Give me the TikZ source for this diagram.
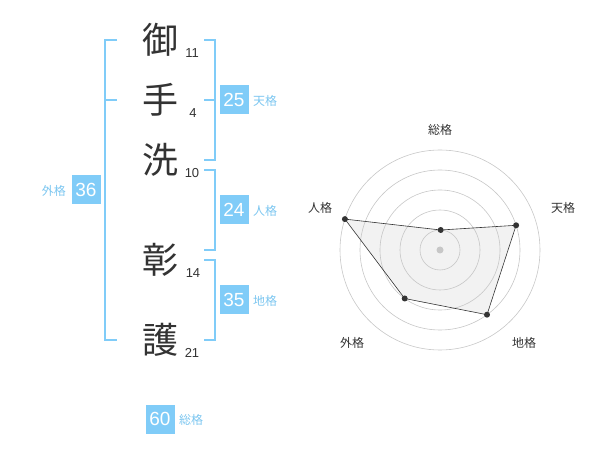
\documentclass[tikz,border=0pt]{standalone}
\usepackage{fontspec}
\setmainfont{Liberation Sans}
\newfontfamily\cjk{Noto Sans CJK JP}
\definecolor{lblue}{HTML}{80CCF8}
\definecolor{ltext}{HTML}{7CC6F0}
\definecolor{dtext}{HTML}{333333}
\begin{document}
\begin{tikzpicture}[x=1pt,y=-1pt,
  kanji/.style={font=\cjk\fontsize{36}{36}\selectfont, text=dtext, inner sep=0pt},
  strokes/.style={font=\fontsize{13}{13}\selectfont, text=dtext, inner sep=0pt},
  valbox/.style={fill=lblue, text=white, font=\fontsize{19}{19}\selectfont, minimum width=29pt, minimum height=29pt, inner sep=0pt},
  lbl/.style={font=\cjk\fontsize{12}{12}\selectfont, text=ltext, inner sep=0pt},
  brk/.style={draw=lblue, line width=2pt},
  ring/.style={draw=black!22, line width=0.6pt},
  axlbl/.style={font=\cjk\fontsize{12}{12}\selectfont, text=dtext, inner sep=0pt},
  pt/.style={circle, fill=dtext, inner sep=0pt, minimum size=6pt}]
\useasboundingbox (0,0) rectangle (600,470);
% characters
\node[kanji] (k1) at (160,40) {御};
\node[kanji] (k2) at (160,100) {手};
\node[kanji] (k3) at (160,160) {洗};
\node[kanji] (k4) at (160,260) {彰};
\node[kanji] (k5) at (160,340) {護};
\node[strokes] (s1) at (192,53) {11};
\node[strokes] (s2) at (193,113) {4};
\node[strokes] (s3) at (192,173) {10};
\node[strokes] (s4) at (193,273) {14};
\node[strokes] (s5) at (192,353) {21};
% brackets
\draw[brk] (117,40) -- (105,40) -- (105,340) -- (117,340);
\draw[brk] (105,100) -- (117,100);
\draw[brk] (204,40) -- (215,40) -- (215,160) -- (204,160);
\draw[brk] (204,100) -- (215,100);
\draw[brk] (204,170) -- (215,170) -- (215,250) -- (204,250);
\draw[brk] (204,260) -- (215,260) -- (215,340) -- (204,340);
% value boxes
\node[valbox] (b36) at (86,190) {36};
\node[lbl, anchor=east] (l36) at (66,191) {外格};
\node[valbox] (b25) at (234,100) {25};
\node[lbl, anchor=west] (l25) at (253,101) {天格};
\node[valbox] (b24) at (234,210) {24};
\node[lbl, anchor=west] (l24) at (253,211) {人格};
\node[valbox] (b35) at (234,300) {35};
\node[lbl, anchor=west] (l35) at (253,301) {地格};
\node[valbox] (b60) at (160,419) {60};
\node[lbl, anchor=west] (l60) at (179,420) {総格};
% radar
\coordinate (c) at (440,250);
\coordinate (p1) at (440.7,230);
\coordinate (p2) at (516.1,225.3);
\coordinate (p3) at (487.0,314.7);
\coordinate (p4) at (404.7,298.5);
\coordinate (p5) at (344.9,219.1);
\fill[black!5] (p1) -- (p2) -- (p3) -- (p4) -- (p5) -- cycle;
\foreach \r in {20,40,60,80,100} \draw[ring] (c) circle[radius=\r];
\fill[black!22] (c) circle[radius=3.5];
\draw[dtext, line width=0.6pt] (p1) -- (p2) -- (p3) -- (p4) -- (p5) -- cycle;
\foreach \p in {p1,p2,p3,p4,p5} \node[pt] at (\p) {};
\node[axlbl] (a1) at (440,130) {総格};
\node[axlbl] (a2) at (563,208) {天格};
\node[axlbl] (a3) at (524,343) {地格};
\node[axlbl] (a4) at (352,343) {外格};
\node[axlbl] (a5) at (320,208) {人格};
\end{tikzpicture}
\end{document}
